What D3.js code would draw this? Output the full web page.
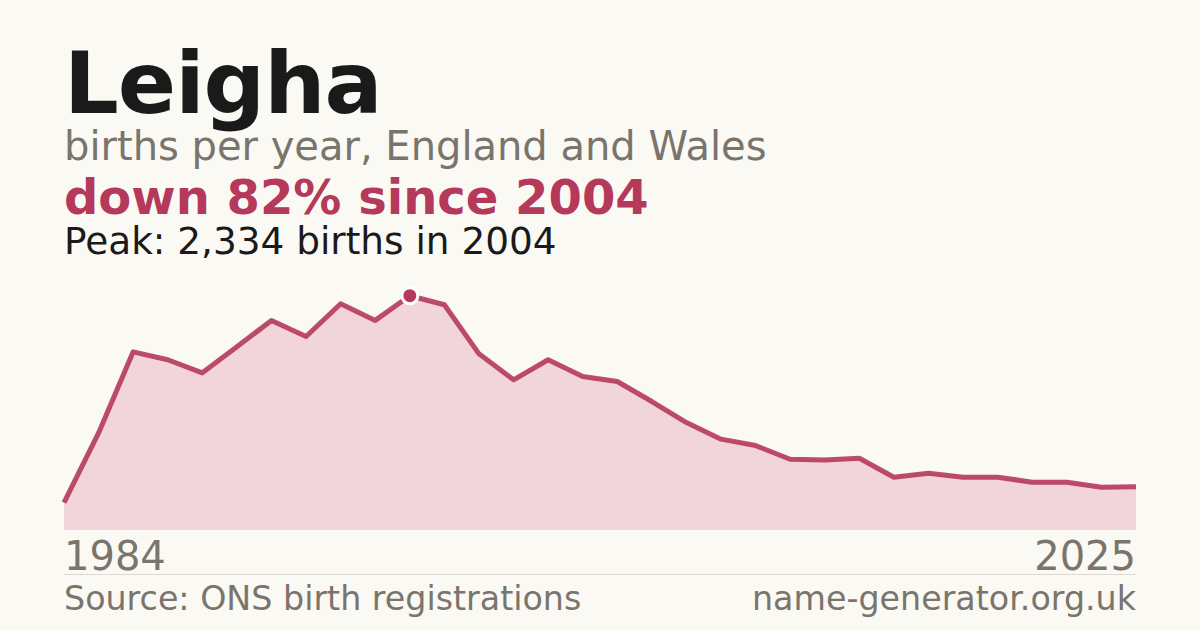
<!DOCTYPE html>
<html>
<head>
<meta charset="utf-8">
<script src="https://cdn.jsdelivr.net/npm/d3@7"></script>
<style>
  html, body { margin: 0; padding: 0; background: #faf9f4; }
  svg { display: block; font-family: "DejaVu Sans", sans-serif; }
</style>
</head>
<body>
<div id="chart"></div>
<script>
var years = [1984, 1994, 1996, 1997, 1998, 1999, 2000, 2001, 2002, 2003, 2004, 2005, 2006, 2007,
	2008, 2009, 2010, 2011, 2012, 2013, 2014, 2015, 2016, 2017, 2018, 2019, 2020, 2021, 2022,
	2023, 2024, 2025];
var births = [272, 967, 1775, 1696, 1566, 1825, 2088, 1928, 2254, 2088, 2334, 2244, 1755, 1496,
	1696, 1529, 1479, 1280, 1070, 905, 841, 705, 698, 715, 526, 566, 526, 526, 476,
	476, 426, 430];
var tickLabels = ["1984", "2025"];
var nameTitle = "Leigha";
var subtitle = "births per year, England and Wales";
var changeText = "down 82% since 2004";
var peakText = "Peak: 2,334 births in 2004";
var sourceText = "Source: ONS birth registrations";
var siteText = "name-generator.org.uk";

var width = 1200, height = 630;
var plotLeft = 64, plotRight = 1136, plotTop = 284, plotBottom = 530;
var accent = "#b5395a";
var grey = "#7a756c";

var data = years.map((y, i) => ({year: y, value: births[i]}));
var peak = data.reduce((a, b) => b.value > a.value ? b : a);

var svg = d3.select("#chart").append("svg")
	.attr("width", width)
	.attr("height", height);

svg.append("rect").attr("width", width).attr("height", height).attr("fill", "#faf9f4");

// text block
svg.append("text").attr("x", plotLeft).attr("y", 113)
	.attr("font-size", 86).attr("font-weight", "bold").attr("fill", "#1a1a1a")
	.attr("letter-spacing", -1)
	.text(nameTitle);
svg.append("text").attr("x", plotLeft).attr("y", 160)
	.attr("font-size", 40).attr("fill", grey)
	.text(subtitle);
svg.append("text").attr("x", plotLeft).attr("y", 214)
	.attr("font-size", 48).attr("font-weight", "bold").attr("fill", accent)
	.text(changeText);
svg.append("text").attr("x", plotLeft).attr("y", 254)
	.attr("font-size", 37.4).attr("fill", "#1a1a1a")
	.text(peakText);

// scales
var x = d3.scalePoint().domain(years).range([plotLeft, plotRight]);
var y = d3.scaleLinear().domain([0, peak.value * 1.05]).range([plotBottom, plotTop]);

var area = d3.area()
	.x(d => x(d.year))
	.y0(plotBottom)
	.y1(d => y(d.value));
var line = d3.line()
	.x(d => x(d.year))
	.y(d => y(d.value));

svg.append("path").datum(data)
	.attr("d", area)
	.attr("fill", "#f1d5da");
svg.append("path").datum(data)
	.attr("d", line)
	.attr("fill", "none")
	.attr("stroke", accent)
	.attr("stroke-width", 5)
	.attr("stroke-opacity", 0.9)
	.attr("stroke-linejoin", "round");

svg.append("circle")
	.attr("cx", x(peak.year))
	.attr("cy", y(peak.value))
	.attr("r", 8)
	.attr("fill", accent)
	.attr("stroke", "#ffffff")
	.attr("stroke-width", 3);

// axis labels (first & last year)
var ends = [years[0], years[years.length - 1]];
svg.selectAll("text.tick").data(ends).enter().append("text")
	.attr("class", "tick")
	.attr("x", d => x(d))
	.attr("y", 570)
	.attr("text-anchor", (d, i) => i == 0 ? "start" : "end")
	.attr("font-size", 40)
	.attr("fill", grey)
	.text((d, i) => tickLabels[i]);

svg.append("line")
	.attr("x1", plotLeft).attr("x2", plotRight)
	.attr("y1", 574.5).attr("y2", 574.5)
	.attr("stroke", "#dedad2").attr("stroke-width", 1);

svg.append("text").attr("x", plotLeft).attr("y", 610)
	.attr("font-size", 33.3).attr("fill", grey)
	.text(sourceText);
svg.append("text").attr("x", plotRight).attr("y", 610)
	.attr("text-anchor", "end")
	.attr("font-size", 33.3).attr("fill", grey)
	.text(siteText);
</script>
</body>
</html>
